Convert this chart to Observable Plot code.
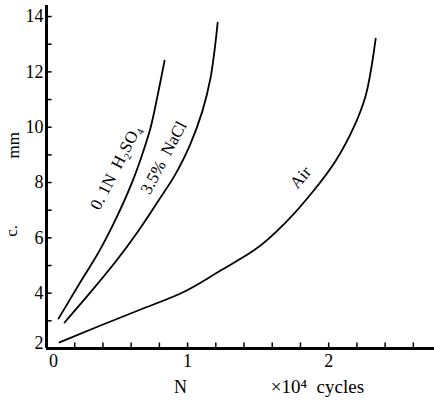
<!DOCTYPE html>
<html>
<head>
<meta charset="utf-8">
<script src="https://cdn.jsdelivr.net/npm/d3@7"></script>
<script src="https://cdn.jsdelivr.net/npm/@observablehq/plot@0.6"></script>
<style>
  html, body { margin: 0; padding: 0; background: #fff; }
  #chart svg { display: block; font-family: "Liberation Serif", "Times New Roman", serif; }
  #chart svg text { font-family: "Liberation Serif", "Times New Roman", serif; }
</style>
</head>
<body>
<div id="chart"></div>
<script>
// ---- data (N in 10^4 cycles, c in mm) ----
const h2so4N = [0.085, 0.234, 0.376, 0.496, 0.603, 0.688, 0.738, 0.780, 0.809, 0.837];
const h2so4C = [3.08, 4.35, 5.54, 6.73, 7.96, 9.16, 9.99, 10.96, 11.69, 12.41];

const naclN = [0.128, 0.305, 0.496, 0.652, 0.794, 0.908, 1.021, 1.106, 1.163, 1.191, 1.213];
const naclC = [2.94, 3.99, 5.18, 6.26, 7.35, 8.25, 9.41, 10.60, 11.79, 12.77, 13.78];

const airN = [0.092, 0.383, 0.667, 0.950, 1.234, 1.468, 1.709, 1.894, 2.050, 2.177, 2.262, 2.305, 2.333];
const airC = [2.22, 2.83, 3.41, 3.99, 4.82, 5.54, 6.63, 7.71, 8.79, 9.99, 11.14, 12.23, 13.20];

const yMajorTicks = [2, 4, 6, 8, 10, 12, 14];
const yMinorTicks = [3, 5, 7, 9, 11, 13];
const xLabelTicks = [0, 1, 2];
const xMinorTicks = [0.2, 0.4, 0.6, 0.8, 1.0, 1.2, 1.4, 1.6, 1.8, 2.0, 2.2, 2.4, 2.6];

const seriesNames = ["0. 1N  H₂SO₄", "3.5%  NaCl", "Air"];
// annotation anchors (data units) and rotation angles
const labelN = [0.49, 0.83, 1.80];
const labelC = [8.54, 8.90, 8.18];
const labelAngle = [-63, -62, -49];

const toRows = (xs, ys) => xs.map((x, i) => ({x, y: ys[i]}));
const series = [toRows(h2so4N, h2so4C), toRows(naclN, naclC), toRows(airN, airC)];
const labels = seriesNames.map((t, i) => ({t, x: labelN[i], y: labelC[i], r: labelAngle[i]}));

const serif = "Liberation Serif, Times New Roman, serif";
const fmt = d3.format("d");

const chart = Plot.plot({
  width: 434,
  height: 402,
  marginLeft: 46,
  marginRight: 0,
  marginTop: 5,
  marginBottom: 54,
  x: {domain: [0, 2.75]},
  y: {domain: [2, 14.4]},
  style: {fontFamily: serif, fontSize: "17px", color: "#000", background: "#fff"},
  marks: [
    // tick labels
    Plot.axisY(yMajorTicks.filter(d => d !== 2), {tickSize: 0, tickPadding: 3, fontSize: 18, fontFamily: serif, tickFormat: fmt, label: null}),
    Plot.axisY(yMajorTicks.filter(d => d === 2), {tickSize: 0, tickPadding: 3, dy: -5, fontSize: 18, fontFamily: serif, tickFormat: fmt, label: null}),
    Plot.axisX(xLabelTicks.filter(d => d !== 0), {tickSize: 0, tickPadding: 6, fontSize: 18, fontFamily: serif, tickFormat: fmt, label: null}),
    Plot.axisX(xLabelTicks.filter(d => d === 0), {tickSize: 0, tickPadding: 6, dx: 7, fontSize: 18, fontFamily: serif, tickFormat: fmt, label: null}),
    // inward tick marks
    Plot.ruleY(yMajorTicks.concat(yMinorTicks), {y: d => d, x1: 0, x2: 0.04, stroke: "#000", strokeWidth: 1.5}),
    Plot.ruleX(xMinorTicks, {x: d => d, y1: 2, y2: 2.2, stroke: "#000", strokeWidth: 1.5}),
    // axis lines
    Plot.ruleX([0], {stroke: "#000", strokeWidth: 3}),
    Plot.ruleY([2], {stroke: "#000", strokeWidth: 3}),
    // curves
    ...series.map(s => Plot.line(s, {x: "x", y: "y", curve: "monotone-y", stroke: "#000", strokeWidth: 1.8})),
    // curve labels
    ...labels.map(l => Plot.text([l], {x: "x", y: "y", text: "t", rotate: l.r, fontSize: 17, fontFamily: serif, fill: "#000"})),
    // axis titles
    Plot.text(["N"], {x: 0.95, y: 0.6, text: d => d, fontSize: 18, fontFamily: serif, fill: "#000"}),
    Plot.text(["×10⁴  cycles"], {x: 1.92, y: 0.6, text: d => d, fontSize: 19, fontFamily: serif, fill: "#000"}),
    Plot.text(["mm"], {x: -0.235, y: 9.35, text: d => d, rotate: -90, fontSize: 17, fontFamily: serif, fill: "#000"}),
    Plot.text(["c."], {x: -0.245, y: 6.25, text: d => d, rotate: -90, fontSize: 17, fontFamily: serif, fill: "#000"})
  ]
});
document.getElementById("chart").appendChild(chart);
</script>
</body>
</html>
